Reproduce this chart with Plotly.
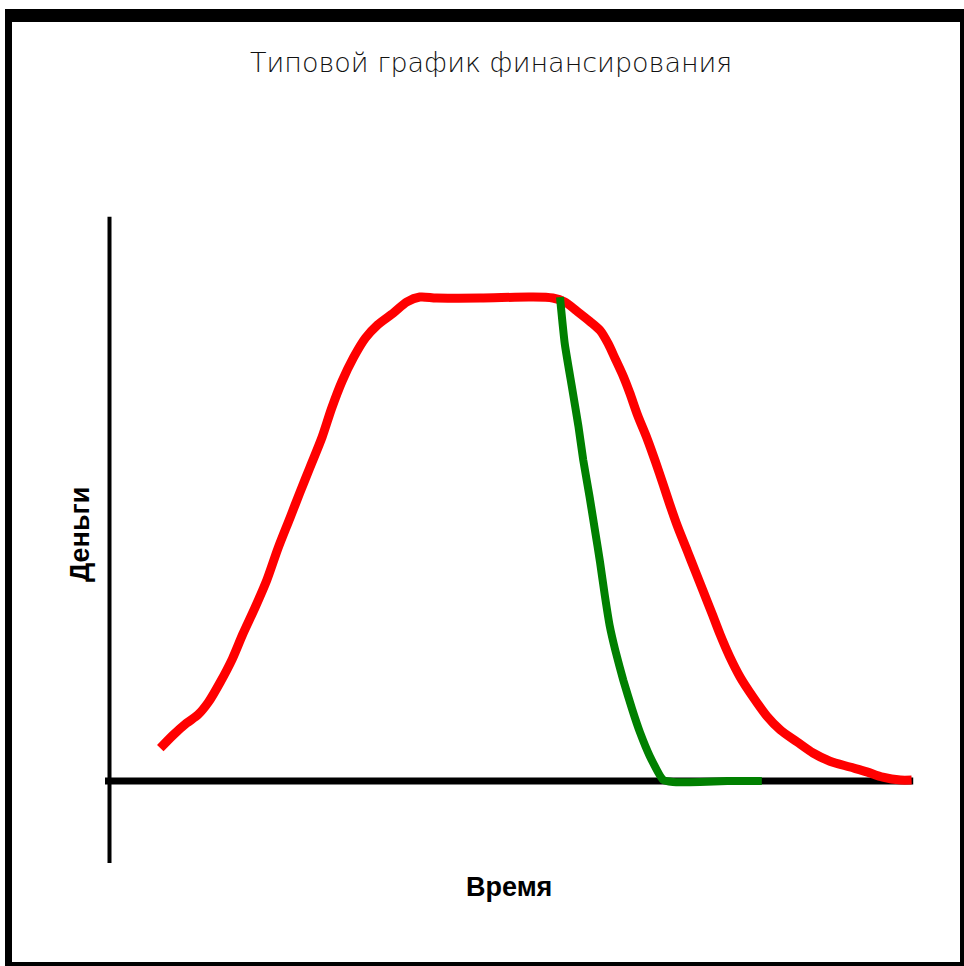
import plotly.graph_objects as go

# Data (time in %, money in % of peak)
red_t = [6.4, 8.0, 9.7, 11.1, 12.4, 13.9, 15.4, 16.7, 18.2, 19.7, 21.1, 22.6, 23.8, 25.1, 26.6, 27.8,
         29.1, 30.5, 32.0, 33.5, 35.5, 37.2, 38.8, 40.9, 46.3, 52.6, 55.4, 56.9, 58.4, 60.0, 61.3,
         62.3, 63.2, 64.2, 65.0, 66.0, 67.2, 68.2, 69.2, 70.0, 71.0, 72.2, 73.2, 74.2, 75.3, 76.3,
         77.5, 78.8, 80.4, 82.1, 83.8, 85.9, 87.9, 90.0, 92.5, 94.6, 96.6, 98.8, 100.2]
red_m = [6.8, 9.5, 12.0, 13.7, 16.3, 20.5, 25.3, 30.4, 35.8, 41.6, 48.2, 54.5, 59.6, 65.0, 71.2, 77.2,
         82.8, 87.6, 91.7, 94.4, 96.9, 99.2, 100.2, 100.0, 100.0, 100.2, 100.0, 99.2, 97.3, 95.2, 93.3,
         90.6, 87.4, 83.8, 80.4, 75.7, 70.8, 66.2, 61.3, 57.3, 52.6, 47.6, 43.4, 39.2, 34.6, 30.3,
         25.7, 21.5, 17.4, 13.5, 10.6, 8.1, 5.8, 4.1, 2.9, 1.9, 0.8, 0.2, 0.2]

green_t = [56.3, 56.9, 57.8, 58.6, 59.2, 60.0, 60.7, 61.3, 61.9, 62.5, 63.2, 64.2, 65.3, 66.3,
           67.5, 69.2, 70.4, 73.8, 77.2, 81.5]
green_m = [100.2, 90.5, 81.5, 73.5, 66.5, 58.8, 51.6, 45.3, 38.4, 32.2, 27.1, 20.9, 14.9, 10.0,
           5.2, 0.2, -0.2, -0.2, 0.0, 0.0]

title_text = "Типовой график финансирования"
x_label = "Время"
y_label = "Деньги"

fig = go.Figure()

# axes drawn as lines (below the curves)
fig.add_shape(type="line", xref="x", yref="y", x0=-0.5, x1=100.4, y0=0, y1=0, layer="below",
              line=dict(color="black", width=7))
fig.add_shape(type="line", xref="x", yref="y", x0=0.06, x1=0.06, y0=-17.0, y1=116.8, layer="below",
              line=dict(color="black", width=4))

fig.add_trace(go.Scatter(x=red_t, y=red_m, mode="lines",
                         line=dict(color="#ff0000", width=9, shape="spline", smoothing=0.8),
                         hoverinfo="skip"))
fig.add_trace(go.Scatter(x=green_t, y=green_m, mode="lines",
                         line=dict(color="#008000", width=8, shape="spline", smoothing=0.5),
                         hoverinfo="skip"))

# frame
W, H = 964, 966
def prect(x0, y0, x1, y1):
    fig.add_shape(type="rect", xref="paper", yref="paper", layer="above",
                  x0=x0 / W, x1=x1 / W, y0=1 - y1 / H, y1=1 - y0 / H,
                  fillcolor="black", line=dict(width=0))
prect(5, 9, 964, 22)
prect(5, 9, 12, 966)
prect(960, 9, 964, 966)
prect(5, 962, 964, 966)

fig.add_annotation(text=title_text, xref="paper", yref="paper", x=491 / W, y=1 - 63 / H,
                   showarrow=False,
                   font=dict(family="DejaVu Sans", size=27, color="#111", weight=300),
                   xanchor="center", yanchor="middle")
fig.add_annotation(text=x_label, xref="paper", yref="paper", x=509 / W, y=1 - 887 / H,
                   showarrow=False, font=dict(family="Liberation Sans", size=27, color="black",
                                              weight="bold"),
                   xanchor="center", yanchor="middle")
fig.add_annotation(text=y_label, xref="paper", yref="paper", x=80 / W, y=1 - 535 / H,
                   showarrow=False, textangle=-90,
                   font=dict(family="Liberation Sans", size=27, color="black", weight="bold"),
                   xanchor="center", yanchor="middle")

fig.update_layout(
    width=W, height=H,
    margin=dict(l=0, r=0, t=0, b=0),
    paper_bgcolor="white", plot_bgcolor="white",
    showlegend=False,
    xaxis=dict(range=[-13.61, 106.74], visible=False, fixedrange=True),
    yaxis=dict(range=[-38.30, 161.70], visible=False, fixedrange=True),
)

fig.write_html("out.html", config={"displayModeBar": False},
               post_script="document.body.style.margin='0';document.body.style.overflow='hidden';")
